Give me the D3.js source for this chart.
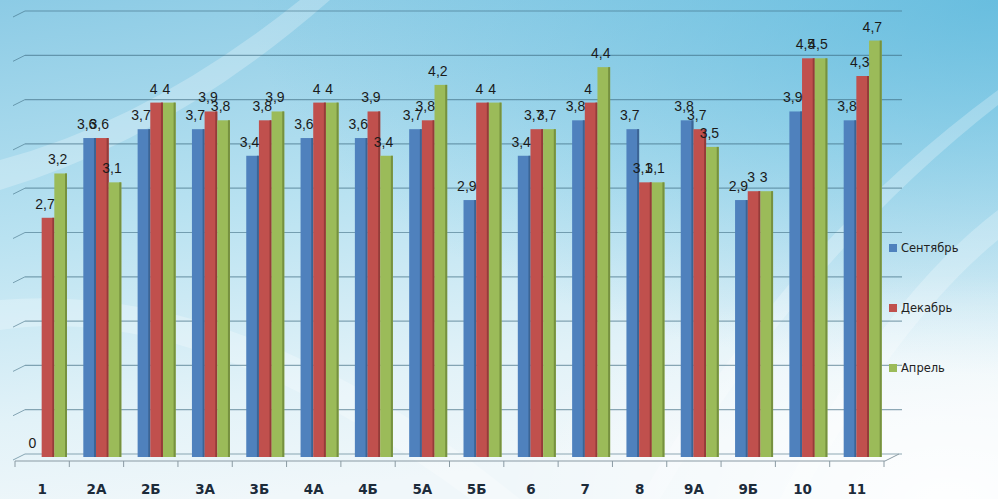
<!DOCTYPE html>
<html>
<head>
<meta charset="utf-8">
<script src="https://cdn.jsdelivr.net/npm/d3@7"></script>
<style>
  body { margin: 0; overflow: hidden; }
  .label { font-family: "Liberation Sans", Arial, sans-serif; font-size: 14px; fill: #1a1a1a; }
  .cat { font-family: "DejaVu Sans", sans-serif; font-size: 13.5px; font-weight: bold; fill: #1c2b3a; }
  .legend { font-family: "DejaVu Sans", sans-serif; font-size: 11.5px; fill: #222; }
</style>
</head>
<body>
<div id="chart"></div>
<script>
const width = 998;
const height = 499;

const categories = ["1", "2А", "2Б", "3А", "3Б", "4А", "4Б", "5А", "5Б", "6", "7", "8", "9А", "9Б", "10", "11"];
const seriesNames = ["Сентябрь", "Декабрь", "Апрель"];
const september = [0, 3.6, 3.7, 3.7, 3.4, 3.6, 3.6, 3.7, 2.9, 3.4, 3.8, 3.7, 3.8, 2.9, 3.9, 3.8];
const december  = [2.7, 3.6, 4, 3.9, 3.8, 4, 3.9, 3.8, 4, 3.7, 4, 3.1, 3.7, 3, 4.5, 4.3];
const april     = [3.2, 3.1, 4, 3.8, 3.9, 4, 3.4, 4.2, 4, 3.7, 4.4, 3.1, 3.5, 3, 4.5, 4.7];
const colours = ["#4f81bd", "#c0504d", "#9bbb59"];
const darker  = ["#3b6495", "#953b39", "#76913f"];

const values = [september, december, april];

const svg = d3.select("#chart").append("svg")
   .attr("width", width)
   .attr("height", height);

// background
const defs = svg.append("defs");
const bg = defs.append("linearGradient").attr("id", "bg")
   .attr("x1", 0).attr("y1", 0).attr("x2", 0.25).attr("y2", 1);
bg.append("stop").attr("offset", "0%").attr("stop-color", "#8ccbe5");
bg.append("stop").attr("offset", "45%").attr("stop-color", "#b9e2f1");
bg.append("stop").attr("offset", "80%").attr("stop-color", "#e2f2f8");
bg.append("stop").attr("offset", "100%").attr("stop-color", "#f0f7fa");

const side = defs.append("radialGradient").attr("id", "side")
   .attr("cx", 1).attr("cy", 0).attr("r", 0.75);
side.append("stop").attr("offset", "0%").attr("stop-color", "#4fb3da").attr("stop-opacity", 0.7);
side.append("stop").attr("offset", "100%").attr("stop-color", "#4fb3da").attr("stop-opacity", 0);

const fade = defs.append("radialGradient").attr("id", "fade")
   .attr("cx", 0.95).attr("cy", 1).attr("r", 0.45);
fade.append("stop").attr("offset", "0%").attr("stop-color", "#fff").attr("stop-opacity", 0.9);
fade.append("stop").attr("offset", "100%").attr("stop-color", "#fff").attr("stop-opacity", 0);

svg.append("rect").attr("width", width).attr("height", height).attr("fill", "url(#bg)");
svg.append("rect").attr("width", width).attr("height", height).attr("fill", "url(#side)");
svg.append("rect").attr("width", width).attr("height", height).attr("fill", "url(#fade)");

// light streaks
const streaks = [
  "M 0 330 Q 200 300 470 499 L 520 499 Q 250 280 0 300 Z",
  "M 780 499 Q 880 300 998 210 L 998 240 Q 900 320 800 499 Z",
  "M 640 499 Q 780 250 998 90 L 998 105 Q 800 260 660 499 Z",
  "M 0 160 Q 150 120 300 0 L 330 0 Q 170 140 0 190 Z"
];
svg.selectAll("path.streak")
   .data(streaks)
   .enter()
   .append("path")
   .attr("class", "streak")
   .attr("d", d => d)
   .attr("fill", "#fff")
   .attr("opacity", 0.25);

const x = d3.scaleBand()
   .domain(categories)
   .range([15, 884]);

const xs = d3.scaleBand()
   .domain(seriesNames)
   .range([14, 52]);

const y = d3.scaleLinear()
   .domain([0, 5])
   .range([457, 14]);

// gridlines (back wall + little perspective ticks)
const grid = svg.append("g").attr("class", "grid");
grid.selectAll("line.h")
   .data(y.ticks(10))
   .enter()
   .append("line")
   .attr("x1", 25).attr("x2", 902)
   .attr("y1", d => y(d) - 3).attr("y2", d => y(d) - 3)
   .attr("stroke", "#36647a")
   .attr("stroke-opacity", 0.55)
   .attr("stroke-width", 1.2);
grid.selectAll("line.d")
   .data(y.ticks(10))
   .enter()
   .append("line")
   .attr("x1", 13).attr("x2", 25)
   .attr("y1", d => y(d) + 3).attr("y2", d => y(d) - 3)
   .attr("stroke", "#36647a")
   .attr("stroke-opacity", 0.55);

// floor front edge
svg.append("line")
   .attr("x1", 15).attr("x2", 885)
   .attr("y1", 461).attr("y2", 461)
   .attr("stroke", "#8a9aa3").attr("stroke-width", 1.2);
svg.append("line")
   .attr("x1", 885).attr("x2", 899)
   .attr("y1", 461).attr("y2", 454)
   .attr("stroke", "#8a9aa3");
svg.selectAll("line.tick")
   .data(categories.concat(["end"]))
   .enter()
   .append("line")
   .attr("x1", (d, i) => 15 + i * x.step())
   .attr("x2", (d, i) => 15 + i * x.step())
   .attr("y1", 461).attr("y2", 467)
   .attr("stroke", "#8a9aa3");

// bars
const flat = [];
categories.forEach((c, i) => {
   seriesNames.forEach((s, j) => {
      flat.push({ cat: c, series: s, idx: j, value: values[j][i] });
   });
});

const bars = svg.selectAll("g.bar")
   .data(flat)
   .enter()
   .append("g")
   .attr("class", "bar");

bars.append("rect")
   .attr("x", d => x(d.cat) + xs(d.series))
   .attr("y", d => y(d.value))
   .attr("width", xs.bandwidth())
   .attr("height", d => y(0) - y(d.value))
   .style("fill", d => colours[d.idx]);

bars.append("rect")
   .attr("x", d => x(d.cat) + xs(d.series) + xs.bandwidth() - 2)
   .attr("y", d => y(d.value))
   .attr("width", 2)
   .attr("height", d => y(0) - y(d.value))
   .style("fill", d => darker[d.idx]);

svg.selectAll("text.label")
   .data(flat)
   .enter()
   .append("text")
   .attr("class", "label")
   .attr("x", d => x(d.cat) + xs(d.series) + xs.bandwidth() / 2 - 3)
   .attr("y", d => y(d.value) - 9)
   .style("text-anchor", "middle")
   .text(d => String(d.value).replace(".", ","));

// category labels
svg.selectAll("text.cat")
   .data(categories)
   .enter()
   .append("text")
   .attr("class", "cat")
   .attr("x", d => x(d) + x.bandwidth() / 2)
   .attr("y", 494)
   .style("text-anchor", "middle")
   .text(d => d);

// legend
const legend = svg.selectAll("g.legend")
   .data(seriesNames)
   .enter()
   .append("g")
   .attr("class", "legend")
   .attr("transform", (d, i) => `translate(889, ${248 + i * 60})`);

legend.append("rect")
   .attr("x", 0).attr("y", -4)
   .attr("width", 8).attr("height", 8)
   .style("fill", (d, i) => colours[i]);

legend.append("text")
   .attr("class", "legend")
   .attr("x", 12)
   .attr("y", 4)
   .text(d => d);
</script>
</body>
</html>
